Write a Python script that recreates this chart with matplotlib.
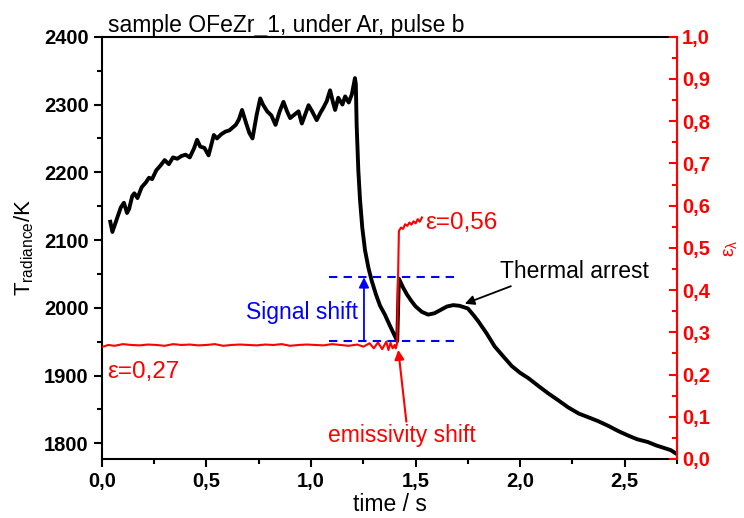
import matplotlib
matplotlib.use("Agg")
import matplotlib.pyplot as plt
from matplotlib.ticker import MultipleLocator, FuncFormatter

plt.rcParams['font.family'] = ['Liberation Sans', 'DejaVu Sans']
plt.rcParams['mathtext.fontset'] = 'custom'
plt.rcParams['mathtext.rm'] = 'Liberation Sans'
plt.rcParams['mathtext.it'] = 'Liberation Sans'
plt.rcParams['mathtext.default'] = 'regular'

# --- radiance temperature (left axis) ---
t_temp = [0.04, 0.05, 0.07, 0.09, 0.105, 0.12, 0.13, 0.145, 0.155, 0.17, 0.19, 0.21,
          0.225, 0.24, 0.26, 0.28, 0.30, 0.32, 0.34, 0.36, 0.38, 0.40, 0.42, 0.44,
          0.455, 0.47, 0.49, 0.51, 0.535, 0.55, 0.57, 0.59, 0.61, 0.64, 0.655, 0.67,
          0.69, 0.705, 0.72, 0.74, 0.757, 0.77, 0.79, 0.81, 0.83, 0.85, 0.868, 0.885,
          0.90, 0.92, 0.94, 0.956, 0.975, 0.988, 1.005, 1.027, 1.045, 1.06, 1.075,
          1.091, 1.105, 1.115, 1.13, 1.15, 1.163, 1.18, 1.195, 1.21, 1.214, 1.218,
          1.226, 1.234, 1.245, 1.258, 1.275, 1.29, 1.31, 1.33, 1.353, 1.375, 1.395,
          1.412, 1.42, 1.44, 1.46, 1.48, 1.50, 1.53, 1.56, 1.59, 1.62, 1.65, 1.68,
          1.71, 1.75, 1.78, 1.80, 1.84, 1.878, 1.92, 1.96, 2.0, 2.04, 2.09, 2.133,
          2.18, 2.23, 2.28, 2.33, 2.371, 2.42, 2.47, 2.52, 2.56, 2.61, 2.65, 2.69,
          2.72, 2.745]
temp = [2127, 2112, 2130, 2148, 2155, 2140, 2146, 2165, 2169, 2162, 2178, 2185,
        2192, 2190, 2203, 2210, 2218, 2212, 2222, 2220, 2224, 2226, 2222, 2235,
        2248, 2238, 2236, 2225, 2255, 2250, 2256, 2260, 2262, 2270, 2278, 2292,
        2272, 2258, 2250, 2285, 2309, 2300, 2290, 2284, 2270, 2290, 2304, 2290,
        2280, 2285, 2290, 2272, 2288, 2299, 2290, 2277, 2288, 2296, 2305,
        2321, 2303, 2292, 2310, 2300, 2312, 2303, 2315, 2339, 2330, 2270,
        2203, 2160, 2118, 2085, 2058, 2040, 2020, 2003, 1990, 1975, 1962,
        1951, 2043, 2030, 2019, 2010, 2002, 1994, 1990, 1992, 1997, 2002, 2004,
        2003, 1999, 1988, 1980, 1962, 1943, 1928, 1914, 1904, 1896, 1884, 1874,
        1864, 1853, 1844, 1838, 1833, 1826, 1818, 1811, 1806, 1802, 1797, 1793,
        1790, 1785]

# --- emissivity (right axis) ---
t_eps = [0.0, 0.03, 0.06, 0.1, 0.14, 0.18, 0.22, 0.26, 0.3, 0.34, 0.38, 0.42, 0.46,
         0.5, 0.54, 0.58, 0.62, 0.66, 0.7, 0.74, 0.78, 0.82, 0.86, 0.9, 0.94, 0.98,
         1.02, 1.06, 1.1, 1.14, 1.18, 1.22, 1.25, 1.28, 1.3, 1.32, 1.34, 1.36, 1.37,
         1.38, 1.39, 1.40, 1.405, 1.412, 1.415, 1.42, 1.43, 1.44, 1.45, 1.46, 1.47,
         1.48, 1.49, 1.50, 1.51, 1.52, 1.53]
eps = [0.265, 0.27, 0.268, 0.272, 0.27, 0.269, 0.271, 0.27, 0.268, 0.272, 0.27, 0.271,
       0.269, 0.27, 0.272, 0.268, 0.27, 0.271, 0.27, 0.269, 0.271, 0.27, 0.272, 0.268,
       0.27, 0.271, 0.27, 0.269, 0.272, 0.27, 0.268, 0.271, 0.266, 0.274, 0.262, 0.276,
       0.26, 0.278, 0.258, 0.275, 0.262, 0.27, 0.262, 0.275, 0.40, 0.54, 0.548, 0.545,
       0.556, 0.552, 0.56, 0.555, 0.563, 0.558, 0.568, 0.562, 0.572]

# signal shift levels (K)
shift_low, shift_high = 1951, 2045
eps_before, eps_after = 0.27, 0.56

comma = FuncFormatter(lambda v, pos: f"{v:.1f}".replace('.', ','))

fig = plt.figure(figsize=(7.44, 5.18), dpi=100)
ax = fig.add_axes([0.137, 0.114, 0.773, 0.815])
ax2 = ax.twinx()

ax.plot(t_temp, temp, color='black', lw=2.8)
ax2.plot(t_eps, eps, color='red', lw=1.5)

ax.set_xlim(0, 2.75)
ax.set_ylim(1777, 2400)
ax2.set_ylim(0, 1.0)

ax.xaxis.set_major_locator(MultipleLocator(0.5))
ax.xaxis.set_minor_locator(MultipleLocator(0.25))
ax.xaxis.set_major_formatter(comma)
ax.yaxis.set_major_locator(MultipleLocator(100))
ax.yaxis.set_minor_locator(MultipleLocator(50))
ax2.yaxis.set_major_locator(MultipleLocator(0.1))
ax2.yaxis.set_minor_locator(MultipleLocator(0.05))
ax2.yaxis.set_major_formatter(comma)

ax.tick_params(axis='both', which='major', direction='out', length=6, width=1.5,
               labelsize=14.5)
ax.tick_params(axis='both', which='minor', direction='out', length=3.5, width=1.5)
ax.tick_params(top=False, right=False, which='both')
ax2.tick_params(axis='y', which='major', direction='in', length=6, width=1.5,
                colors='red', labelsize=14.5)
ax2.tick_params(axis='y', which='minor', direction='in', length=3.5, width=1.5,
                colors='red')
for lab in ax.get_xticklabels() + ax.get_yticklabels() + ax2.get_yticklabels():
    lab.set_fontweight('bold')

for s in ['left', 'bottom', 'top']:
    ax.spines[s].set_linewidth(1.5)
ax2.spines['right'].set_color('red')
ax2.spines['right'].set_linewidth(1.5)
for s in ['left', 'bottom', 'top']:
    ax2.spines[s].set_visible(False)

ax.set_xlabel('time / s', fontsize=16.5, labelpad=1)
ax.set_ylabel('T$_{radiance}$/K', fontsize=16, labelpad=6)
ax2.set_ylabel('ε$_{λ}$', fontsize=14, color='red', labelpad=9)
ax.set_title('sample OFeZr_1, under Ar, pulse b', fontsize=16.5, loc='left',
             x=0.01, pad=3)

# signal shift marker
ax2.plot([1.088, 1.713], [shift_high, shift_high], transform=ax.transData,
         color='blue', ls=(0, (4, 3)), lw=1.5)
ax2.plot([1.088, 1.713], [shift_low, shift_low], transform=ax.transData,
         color='blue', ls=(0, (4, 3)), lw=1.5)
ax.annotate('', xy=(1.253, shift_high), xytext=(1.253, shift_low),
            arrowprops=dict(arrowstyle='-|>', color='blue', lw=1.3,
                            mutation_scale=15, shrinkA=0, shrinkB=0))
ax.text(1.226, 1993, 'Signal shift', color='blue', fontsize=16.5,
        ha='right', va='center')

ax2.text(1.546, eps_after, f'ε={eps_after:.2f}'.replace('.', ','), color='red',
         fontsize=17.5, ha='left', va='center')
ax2.text(0.024, 0.205, f'ε={eps_before:.2f}'.replace('.', ','), color='red',
         fontsize=17.5, ha='left', va='center')

ax.annotate('Thermal arrest', xy=(1.735, 2006), xytext=(1.905, 2053),
            fontsize=16.5, ha='left', va='center',
            arrowprops=dict(arrowstyle='-|>', color='black', lw=1.3,
                            mutation_scale=14, shrinkA=0, shrinkB=0,
                            relpos=(0.12, 0.0)))
ax.annotate('emissivity shift', xy=(1.417, 1938), xytext=(1.436, 1811),
            fontsize=16.5, color='red', ha='center', va='center',
            arrowprops=dict(arrowstyle='-|>', color='red', lw=1.5,
                            mutation_scale=14, shrinkA=0, shrinkB=0,
                            relpos=(0.53, 1.0)))

fig.savefig('out.png', dpi=100)
